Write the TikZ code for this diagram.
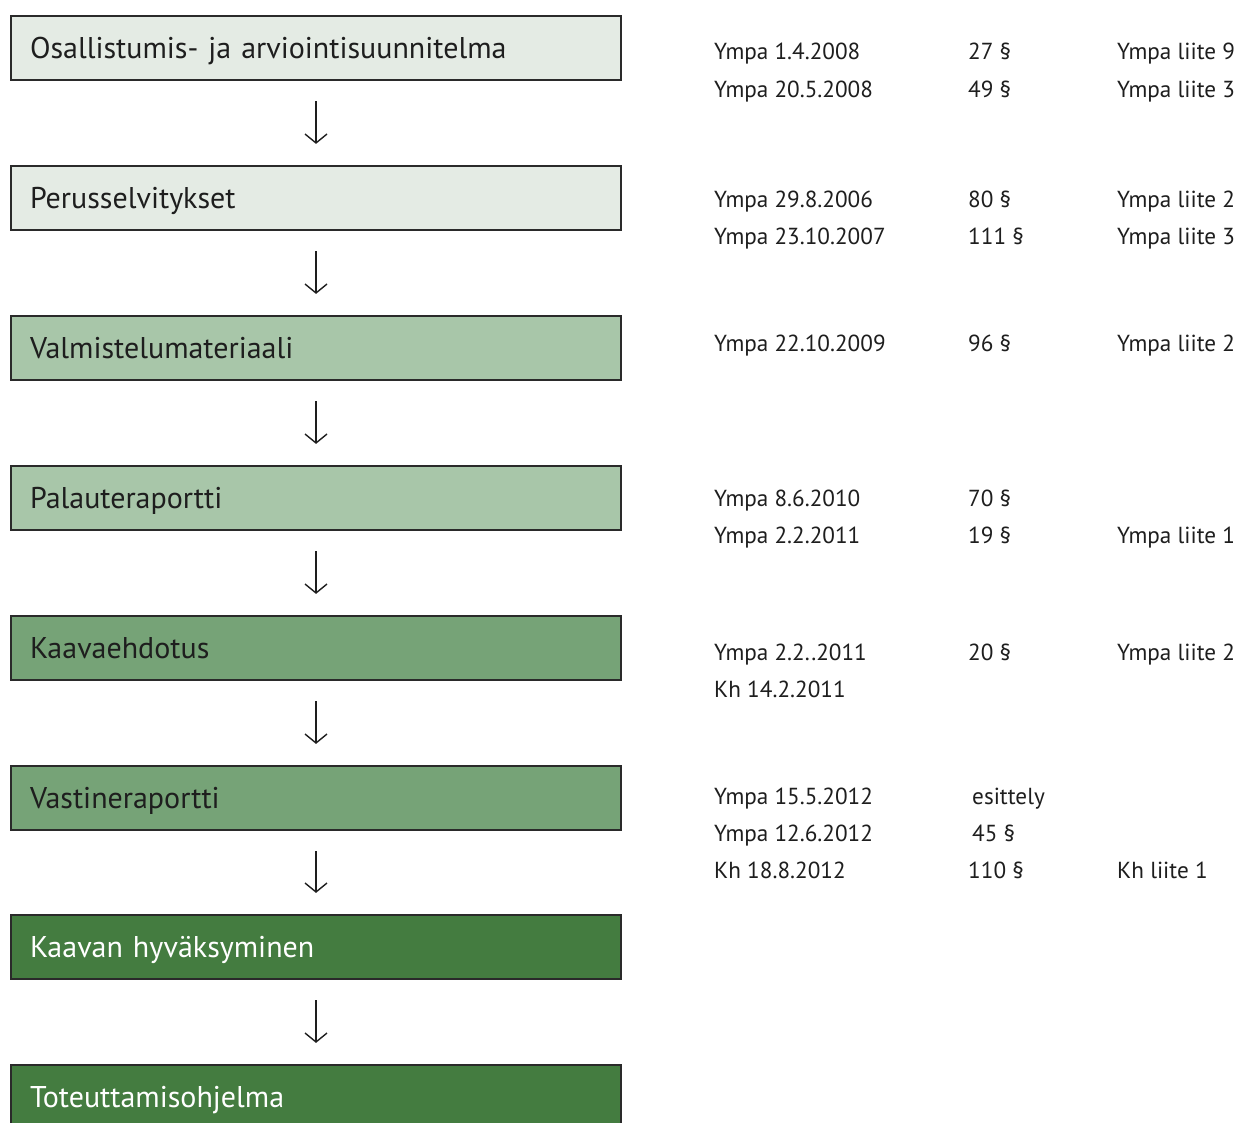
\documentclass[tikz,border=0pt]{standalone}
\usepackage{fontspec}
\setmainfont{PT Sans}
\usetikzlibrary{arrows.meta}
\definecolor{cA}{HTML}{E4EBE4}
\definecolor{cB}{HTML}{A8C6A9}
\definecolor{cC}{HTML}{76A377}
\definecolor{cD}{HTML}{447C40}
\definecolor{bordc}{HTML}{2A2A2A}
\definecolor{txt}{HTML}{1E1E1E}
\tikzset{
  box/.style={draw=bordc, line width=2.2pt, minimum width=610pt, minimum height=64pt,
    text width=572pt, align=left, inner xsep=19pt, text height=21pt, text depth=0pt,
    font=\fontsize{30}{33}\selectfont, text=txt},
  dark/.style={box, text=white},
  arr/.style={line width=1.4pt, draw=txt, shorten <=20pt, shorten >=21pt,
    -{Straight Barb[length=9pt,width=22pt,line width=1.4pt]}},
  info/.style={anchor=base west, inner sep=0pt, font=\fontsize{23.2}{26}\selectfont, text=txt}
}
\begin{document}
\begin{tikzpicture}[x=1pt,y=-1pt]
\useasboundingbox (0,0) rectangle (1238,1122);
\clip (0,0) rectangle (1238,1122);
\fill[white] (0,0) rectangle (1238,1122);
\node[box, fill=cA] (b1) at (316,48) {Osallistumis- ja arviointisuunnitelma};
\node[box, fill=cA] (b2) at (316,198) {Perusselvitykset};
\node[box, fill=cB] (b3) at (316,348) {Valmistelumateriaali};
\node[box, fill=cB] (b4) at (316,498) {Palauteraportti};
\node[box, fill=cC] (b5) at (316,648) {Kaavaehdotus};
\node[box, fill=cC] (b6) at (316,798) {Vastineraportti};
\node[dark, fill=cD] (b7) at (316,947) {Kaavan hyväksyminen};
\node[dark, fill=cD] (b8) at (316,1097) {Toteuttamisohjelma};
\foreach \a/\b in {b1/b2,b2/b3,b3/b4,b4/b5,b5/b6,b6/b7,b7/b8}
  \draw[arr] (\a) -- (\b);
% info rows
\node[info] (r1a) at (714,59.5) {Ympa 1.4.2008};
\node[info] (r1b) at (968,59.5) {27 §};
\node[info] (r1c) at (1117,59.5) {Ympa liite 9};
\node[info] (r2a) at (714,97.5) {Ympa 20.5.2008};
\node[info] (r2b) at (968,97.5) {49 §};
\node[info] (r2c) at (1117,97.5) {Ympa liite 3};
\node[info] (r3a) at (714,207.5) {Ympa 29.8.2006};
\node[info] (r3b) at (968,207.5) {80 §};
\node[info] (r3c) at (1117,207.5) {Ympa liite 2};
\node[info] (r4a) at (714,244.5) {Ympa 23.10.2007};
\node[info] (r4b) at (968,244.5) {111 §};
\node[info] (r4c) at (1117,244.5) {Ympa liite 3};
\node[info] (r5a) at (714,351.5) {Ympa 22.10.2009};
\node[info] (r5b) at (968,351.5) {96 §};
\node[info] (r5c) at (1117,351.5) {Ympa liite 2};
\node[info] (r6a) at (714,506.5) {Ympa 8.6.2010};
\node[info] (r6b) at (968,506.5) {70 §};
\node[info] (r7a) at (714,543.5) {Ympa 2.2.2011};
\node[info] (r7b) at (968,543.5) {19 §};
\node[info] (r7c) at (1117,543.5) {Ympa liite 1};
\node[info] (r8a) at (714,660.5) {Ympa 2.2..2011};
\node[info] (r8b) at (968,660.5) {20 §};
\node[info] (r8c) at (1117,660.5) {Ympa liite 2};
\node[info] (r9a) at (714,697.5) {Kh 14.2.2011};
\node[info] (r10a) at (714,804.5) {Ympa 15.5.2012};
\node[info] (r10b) at (972,804.5) {esittely};
\node[info] (r11a) at (714,841.5) {Ympa 12.6.2012};
\node[info] (r11b) at (972,841.5) {45 §};
\node[info] (r12a) at (714,878.5) {Kh 18.8.2012};
\node[info] (r12b) at (968,878.5) {110 §};
\node[info] (r12c) at (1117,878.5) {Kh liite 1};
\end{tikzpicture}
\end{document}
